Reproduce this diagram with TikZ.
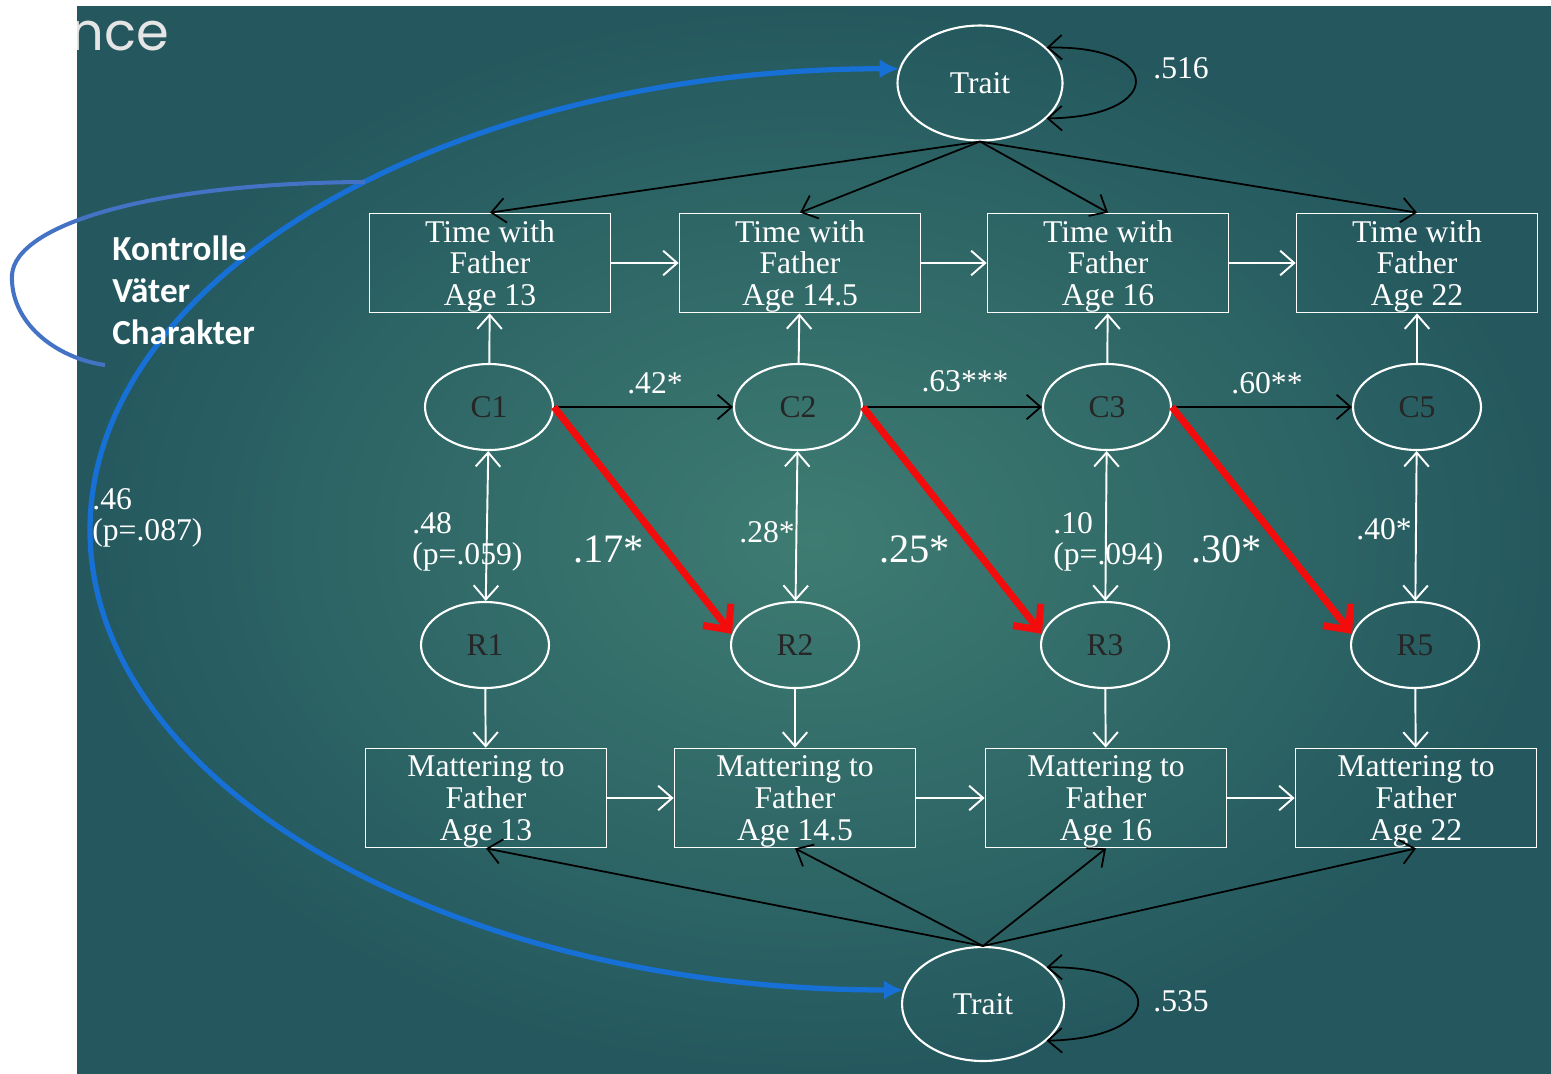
\documentclass[tikz,border=0pt]{standalone}
\usepackage{fontspec}
\setmainfont{Liberation Serif}
\newfontfamily\notefont{Carlito}
\newfontfamily\slidefont{Poppins}
\usetikzlibrary{arrows.meta,positioning,shapes.geometric}

\definecolor{slideteal}{RGB}{62,124,114}
\definecolor{slidedark}{RGB}{36,88,94}
\definecolor{arcblue}{RGB}{22,112,214}
\definecolor{hookblue}{RGB}{68,114,196}
\definecolor{pathred}{RGB}{242,12,12}

\begin{document}
\begin{tikzpicture}[x=0.02cm,y=-0.02cm,
  txt/.style={text=white,font=\fontsize{18}{18}\selectfont},
  latent/.style={ellipse,draw=white,line width=1.2pt,inner sep=0,minimum width=2.56cm,minimum height=1.72cm,text=black!85,font=\fontsize{18}{18}\selectfont},
  trait/.style={latent,minimum width=3.3cm,minimum height=2.3cm,text=white},
  obs/.style={rectangle,draw=white,line width=1pt,inner sep=0,text depth=0pt,minimum width=4.82cm,minimum height=1.98cm,align=center,txt},
  lbl/.style={txt,inner sep=0,align=left},
  biglbl/.style={lbl,font=\fontsize{23}{24}\selectfont},
  wline/.style={white,line width=1.1pt},
  wpath/.style={wline,-{Straight Barb[length=8pt,width=14pt]}},
  wboth/.style={wline,{Straight Barb[length=8pt,width=14pt]}-{Straight Barb[length=8pt,width=14pt]}},
  bpath/.style={black,line width=1pt,-{Straight Barb[length=8pt,width=14pt]}},
  bloop/.style={black,line width=1pt,{Straight Barb[length=8pt,width=14pt]}-{Straight Barb[length=8pt,width=14pt]}},
  rpath/.style={pathred,line width=4pt,-{Straight Barb[length=11pt,width=20pt]}},
  arcpath/.style={arcblue,line width=3pt,{Latex[length=11pt,width=11pt]}-{Latex[length=11pt,width=11pt]}},
]

% Slide background
\useasboundingbox (0,0) rectangle (1551,1073);
\fill[white] (0,0) rectangle (1551,1073);
\shade[inner color=slideteal,outer color=slidedark] (77,6) rectangle (1551,1073);
\begin{scope}
\clip (77,6) rectangle (1551,1073);
\node[anchor=west,inner sep=0,text=black!10,font=\slidefont\fontsize{30}{30}\selectfont] (slidetitle) at (70,36) {nce};
\end{scope}

% Nodes
\node[trait] (traitT) at (980,83) {Trait};
\node[trait,minimum width=3.24cm,minimum height=2.28cm] (traitB) at (983,1004) {Trait};

\node[obs] (tw13) at (490,263) {Time with\\Father\\Age 13};
\node[obs] (tw145) at (800,263) {Time with\\Father\\Age 14.5};
\node[obs] (tw16) at (1108,263) {Time with\\Father\\Age 16};
\node[obs] (tw22) at (1417,263) {Time with\\Father\\Age 22};

\node[latent] (c1) at (489,407) {C1};
\node[latent] (c2) at (798,407) {C2};
\node[latent] (c3) at (1107,407) {C3};
\node[latent] (c5) at (1417,407) {C5};

\node[latent] (r1) at (485,645) {R1};
\node[latent] (r2) at (795,645) {R2};
\node[latent] (r3) at (1105,645) {R3};
\node[latent] (r5) at (1415,645) {R5};

\node[obs] (mt13) at (486,798) {Mattering to\\Father\\Age 13};
\node[obs] (mt145) at (795,798) {Mattering to\\Father\\Age 14.5};
\node[obs] (mt16) at (1106,798) {Mattering to\\Father\\Age 16};
\node[obs] (mt22) at (1416,798) {Mattering to\\Father\\Age 22};

% The control arc between the two traits
\coordinate (bend) at (90,530);
\draw[arcpath] (traitT.170) .. controls (448,69) and (90,276) .. (bend) .. controls (90,784) and (448,990) .. (traitB.170);
\node[lbl,anchor=west] (lab46) at (92,518) {.46\\(p=.087)};

% Note on the left
\coordinate (hookA) at (365,182);
\coordinate (hookB) at (105,365);
\draw[hookblue,line width=2.3pt] (hookA) .. controls (150,183) and (15,225) .. (12,275) .. controls (10,322) and (55,358) .. (hookB);
\node[anchor=west,align=left,inner sep=0,text=white,font=\notefont\bfseries\fontsize{20}{24}\selectfont] (note) at (112,290) {Kontrolle\\Väter\\Charakter};

% Trait loadings
\draw[bpath] (traitT.south) -- (tw13.north);
\draw[bpath] (traitT.south) -- (tw145.north);
\draw[bpath] (traitT.south) -- (tw16.north);
\draw[bpath] (traitT.south) -- (tw22.north);
\draw[bpath] (traitB.north) -- (mt13.south);
\draw[bpath] (traitB.north) -- (mt145.south);
\draw[bpath] (traitB.north) -- (mt16.south);
\draw[bpath] (traitB.north) -- (mt22.south);

% Trait variances
\draw[bloop] (traitT.28) .. controls (1165,45) and (1165,117) .. (traitT.-28);
\draw[bloop] (traitB.30) .. controls (1168,966) and (1168,1038) .. (traitB.-30);
\node[lbl,anchor=west] (lab516) at (1153,68) {.516};
\node[lbl,anchor=west] (lab535) at (1153,1001) {.535};

% Autoregressive paths
\draw[wpath] (tw13) -- (tw145);
\draw[wpath] (tw145) -- (tw16);
\draw[wpath] (tw16) -- (tw22);
\draw[wpath] (mt13) -- (mt145);
\draw[wpath] (mt145) -- (mt16);
\draw[wpath] (mt16) -- (mt22);

% Residuals to indicators
\draw[wpath] (c1) -- (tw13);
\draw[wpath] (c2) -- (tw145);
\draw[wpath] (c3) -- (tw16);
\draw[wpath] (c5) -- (tw22);
\draw[wpath] (r1) -- (mt13);
\draw[wpath] (r2) -- (mt145);
\draw[wpath] (r3) -- (mt16);
\draw[wpath] (r5) -- (mt22);

% Covariances
\draw[wboth] (c1) -- (r1);
\draw[wboth] (c2) -- (r2);
\draw[wboth] (c3) -- (r3);
\draw[wboth] (c5) -- (r5);
\node[lbl,anchor=west] (lab48) at (412,542) {.48\\(p=.059)};
\node[lbl,anchor=west] (lab28) at (739,532) {.28*};
\node[lbl,anchor=west] (lab10) at (1053,542) {.10\\(p=.094)};
\node[lbl,anchor=west] (lab40) at (1356,529) {.40*};

% Stability paths
\draw[bpath] (c1) -- (c2);
\draw[bpath] (c2) -- (c3);
\draw[bpath] (c3) -- (c5);
\node[lbl] (lab42) at (655,383) {.42*};
\node[lbl] (lab63) at (965,381) {.63***};
\node[lbl] (lab60) at (1267,383) {.60**};

% Cross-lagged paths
\draw[rpath] (c1.east) -- (r2.170);
\draw[rpath] (c2.east) -- (r3.170);
\draw[rpath] (c3.east) -- (r5.170);
\node[biglbl,anchor=west] (lab17) at (573,549) {.17*};
\node[biglbl,anchor=west] (lab25) at (879,549) {.25*};
\node[biglbl,anchor=west] (lab30) at (1191,549) {.30*};

\end{tikzpicture}
\end{document}
